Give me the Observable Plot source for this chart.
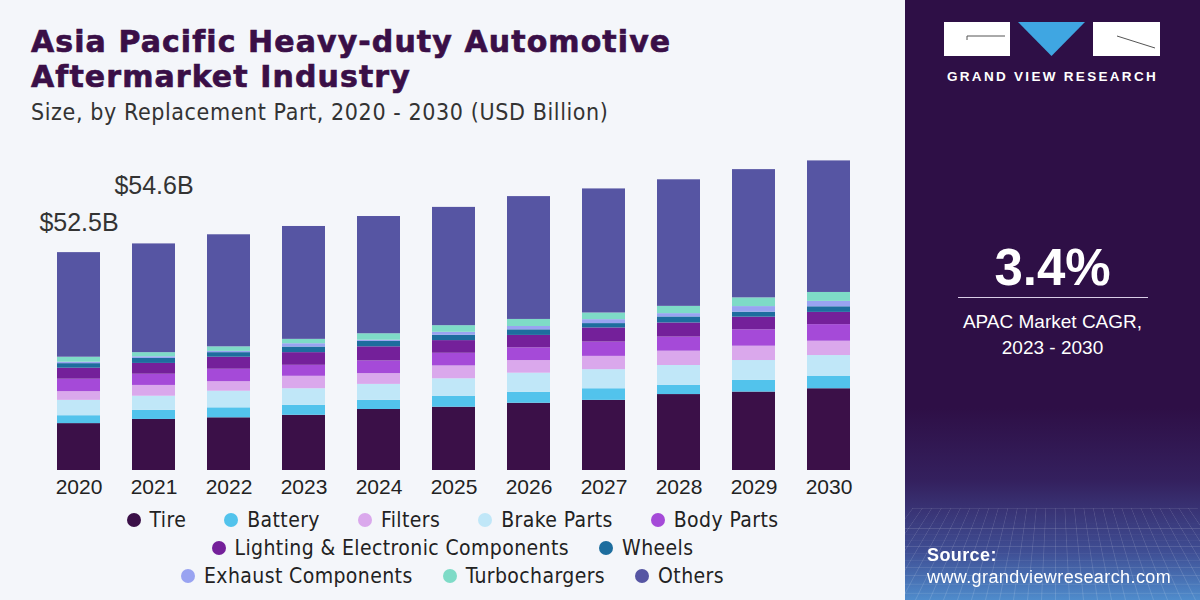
<!DOCTYPE html>
<html><head><meta charset="utf-8">
<script src="https://cdn.jsdelivr.net/npm/d3@7"></script>
<script src="https://cdn.jsdelivr.net/npm/@observablehq/plot@0.6"></script>
<style>
html,body{margin:0;padding:0}
body{width:1200px;height:600px;overflow:hidden;background:#f4f6fa;position:relative;font-family:"Liberation Sans",Arial,sans-serif}
.narrow{font-family:"Liberation Sans Narrow","DejaVu Sans Condensed","Liberation Sans",sans-serif}
.tline{position:absolute;left:31px;font-size:30px;line-height:30px;font-weight:bold;color:#3a0f47;white-space:nowrap;letter-spacing:1px;-webkit-text-stroke:0.6px #3a0f47;transform:scaleX(1.11);transform-origin:left top}
#t1{top:27px}
#t2{top:62px}
#subtitle{position:absolute;left:31px;top:101px;font-size:23px;line-height:23px;letter-spacing:0.6px;color:#333;white-space:nowrap}
#chart{position:absolute;left:0;top:130px}
#legend{position:absolute;left:0;top:506px;width:905px;font-size:21px;letter-spacing:0.4px;color:#222}
.lrow{display:flex;justify-content:center;height:28px;align-items:center}
.litem{display:flex;align-items:center;margin:0 15px}
.lrow.first .litem{margin:0 19px}
.dot{width:14px;height:14px;border-radius:50%;margin-right:9px}
#panel{position:absolute;left:905px;top:0;width:295px;height:600px;background:linear-gradient(to bottom,#2e0f46 0%,#2e0f46 68%,#34205e 80%,#3f4e94 92%,#4f8ccc 100%);overflow:hidden}
#grid{position:absolute;left:-60px;top:435px;width:420px;height:165px;background-image:repeating-linear-gradient(to right,rgba(255,255,255,0.13) 0 1px,transparent 1px 14px),repeating-linear-gradient(to bottom,rgba(255,255,255,0.13) 0 1px,transparent 1px 12px);transform:perspective(200px) rotateX(35deg);transform-origin:bottom}
#gvr{position:absolute;left:0;width:295px;top:69px;text-align:center;color:#fff;font-weight:bold;font-size:13.5px;letter-spacing:2.3px}
#cagr{position:absolute;left:0;width:295px;top:238px;text-align:center;color:#fff;font-weight:bold;font-size:51px}
#rule{position:absolute;left:53px;width:190px;top:297px;height:1px;background:#d9cde6}
#cagrtxt{position:absolute;left:0;width:295px;top:309px;text-align:center;color:#fff;font-size:19px;line-height:26px}
#src{position:absolute;left:22px;top:544px;color:#fff;font-size:18px;line-height:22px;letter-spacing:0.4px}
</style></head><body>
<div id="t1" class="tline narrow">Asia Pacific Heavy-duty Automotive</div>
<div id="t2" class="tline narrow">Aftermarket Industry</div>
<div id="subtitle" class="narrow">Size, by Replacement Part, 2020 - 2030 (USD Billion)</div>
<div id="chart"></div>
<div id="legend" class="narrow"></div>
<div id="panel">
  <div id="grid"></div>
  <svg style="position:absolute;left:0;top:0" width="295" height="70">
    <rect x="39" y="22" width="66" height="34" fill="#fff"/>
    <path d="M 62 40 L 62 36 L 100 36" stroke="#555" stroke-width="1" fill="none"/>
    <polygon points="113,22 180,22 146.5,56" fill="#3fa6e2"/>
    <rect x="188" y="22" width="67" height="34" fill="#fff"/>
    <path d="M 212 36 L 250 48" stroke="#555" stroke-width="1" fill="none"/>
  </svg>
  <div id="gvr">GRAND VIEW RESEARCH</div>
  <div id="cagr">3.4%</div>
  <div id="rule"></div>
  <div id="cagrtxt">APAC Market CAGR,<br>2023 - 2030</div>
  <div id="src"><b>Source:</b><br>www.grandviewresearch.com</div>
</div>
<script>
const years = ["2020","2021","2022","2023","2024","2025","2026","2027","2028","2029","2030"];
const parts = ["Tire","Battery","Brake Parts","Filters","Body Parts","Lighting & Electronic Components","Wheels","Exhaust Components","Turbochargers","Others"];
const legendRows = [
  ["Tire","Battery","Filters","Brake Parts","Body Parts"],
  ["Lighting & Electronic Components","Wheels"],
  ["Exhaust Components","Turbochargers","Others"]
];
const partColors = ["#3b1048","#52c3ec","#c0e7f8","#daa8ec","#a54ad8","#74209a","#1d6d9e","#99a3f1","#7edbc7","#5655a3"];

const tire      = [11.3, 12.3, 12.7, 13.3, 14.7, 15.25, 16.2, 16.9, 18.3, 18.9, 19.7];
const battery   = [1.9, 2.2, 2.4, 2.4, 2.2, 2.6, 2.65, 2.8, 2.2, 2.8, 2.95];
const brake     = [3.7, 3.4, 4.0, 4.0, 3.85, 4.25, 4.6, 4.6, 4.8, 4.8, 5.05];
const filters   = [2.1, 2.6, 2.3, 3.0, 2.6, 3.1, 3.05, 3.2, 3.45, 3.45, 3.45];
const body      = [3.0, 2.7, 3.0, 2.65, 3.05, 3.05, 3.05, 3.45, 3.4, 3.95, 4.0];
const lighting  = [2.65, 2.6, 2.9, 3.05, 3.4, 3.05, 3.0, 3.4, 3.4, 3.05, 2.95];
const wheels    = [1.1, 1.2, 1.1, 1.35, 1.3, 1.3, 1.35, 1.05, 1.45, 1.2, 1.35];
const exhaust   = [0.35, 0.4, 0.3, 0.8, 0.3, 0.7, 0.8, 0.95, 0.8, 1.35, 1.3];
const turbo     = [1.2, 1.0, 1.1, 1.05, 1.55, 1.6, 1.7, 1.6, 1.75, 2.1, 2.15];
const others    = [25.2, 26.2, 27.0, 27.2, 28.25, 28.5, 29.6, 29.9, 30.5, 30.9, 31.7];

const labelYears = ["2020","2021"];
const labelTotals = [52.5, 54.6];
const labelTexts = ["$52.5B","$54.6B"];

const series = [tire, battery, brake, filters, body, lighting, wheels, exhaust, turbo, others];
const data = years.flatMap((yr, i) => parts.map((p, j) => ({year: yr, part: p, value: series[j][i]})));
const labels = labelYears.map((yr, i) => ({year: yr, total: labelTotals[i], text: labelTexts[i]}));

const chart = Plot.plot({
  width: 905, height: 372,
  marginLeft: 56, marginRight: 54, marginTop: 8, marginBottom: 32,
  style: {background: "transparent", fontFamily: "'Liberation Sans', Arial, sans-serif", fontSize: "21px", color: "#222"},
  x: {domain: years, paddingInner: 0.43, paddingOuter: 0, label: null, tickSize: 0, tickPadding: 9},
  y: {domain: [0, 80], axis: null},
  color: {domain: parts, range: partColors},
  marks: [
    Plot.barY(data, {x: "year", y: "value", fill: "part"}),
    Plot.text([labels[0]], {x: "year", y: "total", text: "text", dy: -30, fontSize: 25, fill: "#333"}),
    Plot.text([labels[1]], {x: "year", y: "total", text: "text", dy: -58, fontSize: 25, fill: "#333"})
  ]
});
document.getElementById("chart").appendChild(chart);

const legend = document.getElementById("legend");
legendRows.forEach((row, ri) => {
  const r = document.createElement("div");
  r.className = ri === 0 ? "lrow first" : "lrow";
  row.forEach(p => {
    const it = document.createElement("div");
    it.className = "litem";
    const d = document.createElement("span");
    d.className = "dot";
    d.style.background = partColors[parts.indexOf(p)];
    const t = document.createElement("span");
    t.textContent = p;
    it.appendChild(d); it.appendChild(t);
    r.appendChild(it);
  });
  legend.appendChild(r);
});
</script>
</body></html>
